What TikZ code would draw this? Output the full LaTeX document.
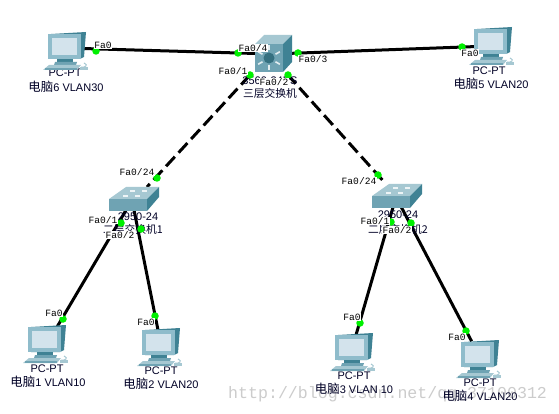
\documentclass[tikz,border=0pt]{standalone}
\usepackage{fontspec}
\setmainfont{Liberation Sans}
\newfontfamily\cjk[Scale=1.13]{Noto Sans CJK SC}
\newfontfamily\monof{Liberation Mono}
\definecolor{scr}{HTML}{D3E3EC}
\definecolor{fr}{HTML}{8FBCCB}
\definecolor{frd}{HTML}{3E8496}
\definecolor{swt}{HTML}{A6C8D2}
\definecolor{swf}{HTML}{6FA3B3}
\definecolor{swr}{HTML}{3F8294}
\definecolor{lnk}{HTML}{00F000}
\tikzset{
  x=1pt,y=-1pt,
  wire/.style={line width=3pt,black},
  dwire/.style={line width=3pt,black,dash pattern=on 13pt off 5.5pt},
  lightdot/.style={circle,fill=lnk,inner sep=0pt,minimum size=7.5pt},
  portlabel/.style={font=\monof\fontsize{9.6}{10}\selectfont,fill=white,inner sep=0.3pt,text=black},
  devlabel/.style={font=\fontsize{11}{12}\selectfont,inner sep=0pt,text=black!85!blue},
  hub/.style={inner sep=0pt,minimum size=1pt},
  pcicon/.pic={
    \fill[swr] (8,2)--(43,0)--(41,25)--(37,27)--(8,27)--cycle;
    \fill[fr] (5,2)--(38,2)--(38,27)--(5,27)--cycle;
    \fill[scr] (9,6) rectangle (34,23);
    \fill[swr] (14,27) rectangle (30,30);
    \fill[swf] (12,30)--(34,30)--(33,33)--(11,33)--cycle;
    \fill[swt] (6,33)--(38,33)--(34,38)--(0,38)--cycle;
    \fill[swf] (2,38)--(34,38)--(34,36)--(2,36)--cycle;
    \draw[swt,line width=1pt] (38,35) .. controls (42,36) and (46,33) .. (41,31);
    \fill[swt] (37,35) rectangle (45,38);
  },
  swicon/.pic={
    \fill[swt] (0,12)--(17,0)--(50,0)--(38,12)--cycle;
    \fill[swf] (0,12) rectangle (38,24);
    \fill[swr] (38,12)--(50,0)--(50,10)--(38,24)--cycle;
    \foreach \a/\b in {14/8,26/8,21/3,33/3} \fill[white!80!swt] (\a,\b) rectangle ++(5,1.6);
  },
  l3icon/.pic={
    \fill[swt] (0,9)--(9,0)--(37,0)--(28,9)--cycle;
    \fill[swf] (0,9) rectangle (28,37);
    \fill[swr] (28,9)--(37,0)--(37,27)--(28,37)--cycle;
    \foreach \r in {0,60,...,300} \draw[white!70!swt,line width=1.6pt] (14,23)++(\r+30:7.5) -- ++(\r+30:5);
    \fill[frd!85!black] (14,23) circle (5.5);
  }
}
\begin{document}
\begin{tikzpicture}
\useasboundingbox (0,0) rectangle (559,414);
\fill[white] (0,0) rectangle (559,414);
% watermark
\node[font=\monof\fontsize{16.6}{18}\selectfont,text=black!20,inner sep=0pt,anchor=west] at (228,394) {http://blog.csdn.net/qq\_37100312};
% anchor hubs
\node[hub] (pc6) at (65,48) {};
\node[hub] (pc5) at (491,46) {};
\node[hub] (l3) at (273,54) {};
\node[hub] (sw1) at (132,200) {};
\node[hub] (sw2) at (396,197) {};
\node[hub] (pc1) at (57,327) {};
\node[hub] (pc2) at (158,330) {};
\node[hub] (pc3) at (356,335) {};
\node[hub] (pc4) at (472,342) {};
\coordinate (l3a) at (250,75);
\coordinate (l3b) at (287,74);
\coordinate (s1t) at (147,187);
\coordinate (s2t) at (386,184);
% links
\draw[wire] (pc6)--(l3);
\draw[wire] (l3)--(pc5);
\draw[dwire] (l3a)--(s1t);
\draw[dwire] (l3b)--(s2t);
\draw[wire] (sw1)--(pc1);
\draw[wire] (sw1)--(pc2);
\draw[wire] (sw2)--(pc3);
\draw[wire] (sw2)--(pc4);
% device captions
\node[devlabel] at (65,73) {PC-PT};
\node[devlabel] at (66,87) {{\cjk 电脑}6 VLAN30};
\node[devlabel] at (489,71) {PC-PT};
\node[devlabel] at (491,84) {{\cjk 电脑}5 VLAN20};
\node[devlabel] at (47,369) {PC-PT};
\node[devlabel] at (48,382) {{\cjk 电脑}1 VLAN10};
\node[devlabel] at (161,371) {PC-PT};
\node[devlabel] at (161,384) {{\cjk 电脑}2 VLAN20};
\node[devlabel] at (354,376) {PC-PT};
\node[devlabel] at (354,389) {{\cjk 电脑}3 VLAN 10};
\node[devlabel] at (480,383) {PC-PT};
\node[devlabel] at (480,396) {{\cjk 电脑}4 VLAN20};
\node[devlabel] at (270,81) {3560-24PS};
\node[devlabel,font=\fontsize{9.5}{12}\selectfont] at (270,93) {\cjk 三层交换机};
\node[devlabel] at (138,217) {2950-24};
\node[devlabel,font=\fontsize{9.5}{12}\selectfont] at (133,229) {\cjk 二层交换机1};
\node[devlabel] at (398,215) {2950-24};
\node[devlabel,font=\fontsize{9.5}{12}\selectfont] at (398,229) {\cjk 二层交换机2};
% icons
\pic at (43,32) {pcicon};
\pic at (469,27) {pcicon};
\pic at (23,325) {pcicon};
\pic at (137,328) {pcicon};
\pic at (330,333) {pcicon};
\pic at (456,340) {pcicon};
\pic at (255,35) {l3icon};
\pic at (109,187) {swicon};
\pic at (372,184) {swicon};
% port lights
\foreach \x/\y in {96/51,238/53,298/53,462/47,250/75,288/75,157/178,378/175,121/223,141/229,391/222,411/223,63/319,155/316,360/323,466/331}
  \node[lightdot] at (\x,\y) {};
% port labels
\node[portlabel] at (103,45) {Fa0};
\node[portlabel] at (253,48) {Fa0/4};
\node[portlabel] at (313,59) {Fa0/3};
\node[portlabel] at (470,53) {Fa0};
\node[portlabel] at (233,71) {Fa0/1};
\node[portlabel] at (274,82) {Fa0/2};
\node[portlabel] at (137,172) {Fa0/24};
\node[portlabel] at (359,181) {Fa0/24};
\node[portlabel] at (103,220) {Fa0/1};
\node[portlabel] at (120,235) {Fa0/2};
\node[portlabel] at (375,221) {Fa0/1};
\node[portlabel] at (397,230) {Fa0/2};
\node[portlabel] at (54,313) {Fa0};
\node[portlabel] at (146,322) {Fa0};
\node[portlabel] at (352,317) {Fa0};
\node[portlabel] at (457,337) {Fa0};
\end{tikzpicture}
\end{document}
